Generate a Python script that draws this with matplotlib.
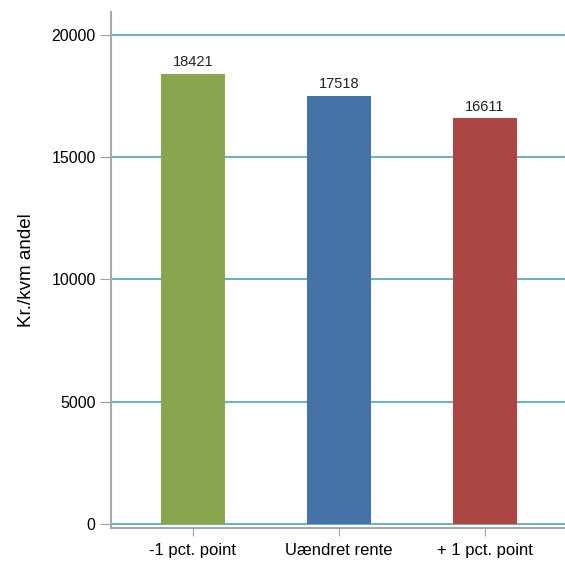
import numpy as np
import matplotlib
matplotlib.use("Agg")
import matplotlib.pyplot as plt

plt.rcParams['font.family'] = ['Liberation Sans', 'DejaVu Sans']

# data
categories = ['-1 pct. point', 'Uændret rente', '+ 1 pct. point']
values = [18421, 17518, 16611]
colors = ['#89a54e', '#4572a7', '#aa4643']
yticks = [0, 5000, 10000, 15000, 20000]

fig = plt.figure(figsize=(5.65, 5.61), dpi=100)
ax = fig.add_axes([0.1965, 0.0588, 0.8035, 0.92])

x = np.arange(len(categories))
bars = ax.bar(x, values, width=0.44, color=colors, zorder=3)

for xi, v in zip(x, values):
    ax.annotate(str(v), xy=(xi, v), xytext=(0, 3), textcoords='offset points',
                ha='center', va='bottom', fontsize=10.5, color='#222222')

ax.set_xlim(-0.56, 2.55)
ax.set_ylim(-160, 20940)
ax.set_yticks(yticks)
ax.set_xticks(x)
ax.set_xticklabels(categories, fontsize=12)
ax.tick_params(axis='y', labelsize=11.5, length=8, color='#a0a0a0', pad=3)
ax.tick_params(axis='x', length=6, color='#a0a0a0', pad=5)

ax.grid(axis='y', color='#6fb3b5', linewidth=1.5, zorder=1)
ax.set_axisbelow(True)

for s in ['top', 'right']:
    ax.spines[s].set_visible(False)
ax.spines['left'].set_color('#a8a8a8')
ax.spines['bottom'].set_color('#a8a8a8')
ax.spines['left'].set_linewidth(1.5)
ax.spines['bottom'].set_linewidth(1.5)

ax.set_ylabel('Kr./kvm andel', fontsize=13.5, labelpad=12)

fig.savefig('out.png', dpi=100)
